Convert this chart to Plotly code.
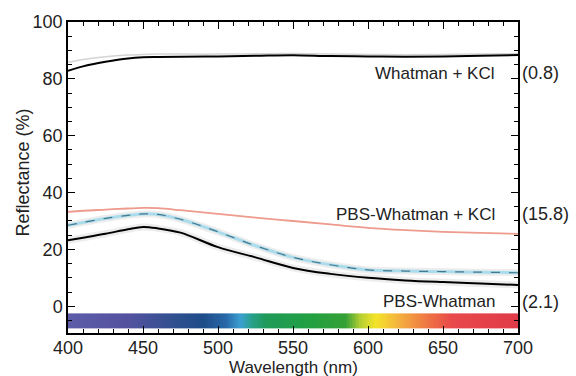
import numpy as np
import plotly.graph_objects as go

# ---- data ----
wavelength = [400, 410, 425, 440, 450, 460, 475, 500, 525, 550, 575, 600, 625, 650, 675, 700]

whatman_kcl = [82.8, 84.4, 86.0, 87.2, 87.6, 87.7, 87.8, 87.9, 88.1, 88.3, 88.0, 87.9, 87.8, 87.9, 88.1, 88.4]
whatman_kcl_upper = [85.8, 86.8, 87.8, 88.4, 88.6, 88.7, 88.7, 88.7, 88.8, 88.9, 88.7, 88.6, 88.5, 88.6, 88.7, 88.9]
pbs_whatman_kcl = [33.2, 33.6, 34.0, 34.4, 34.6, 34.5, 33.8, 32.5, 31.2, 30.0, 28.8, 27.6, 26.8, 26.2, 25.8, 25.5]
pbs_whatman_mid = [28.5, 29.5, 30.9, 32.0, 32.5, 32.3, 30.6, 26.2, 21.3, 17.2, 14.6, 12.8, 12.4, 12.2, 12.0, 11.8]
pbs_whatman = [23.2, 24.1, 25.5, 27.1, 27.9, 27.4, 25.9, 20.8, 17.2, 13.5, 11.4, 10.0, 9.1, 8.5, 8.0, 7.5]

series_labels = ["Whatman + KCl", "PBS-Whatman + KCl", "PBS-Whatman"]
series_label_y = [81.9, 32.4, 1.6]
series_values = ["(0.8)", "(15.8)", "(2.1)"]

x_ticks = [400, 450, 500, 550, 600, 650, 700]
y_ticks = [0, 20, 40, 60, 80, 100]

spectrum_band = [-7.7, -2.5]
spectrum_stops = [
    (400, "#5c5ca8"), (440, "#54529f"), (470, "#30508f"), (490, "#1d4c88"),
    (505, "#2868a8"), (515, "#3aa0d2"), (522, "#28a08c"), (532, "#1f9a58"),
    (560, "#22a043"), (585, "#35a035"), (595, "#b8d032"), (605, "#f4e428"),
    (620, "#f4b23e"), (640, "#ee7444"), (655, "#e84a4a"), (700, "#e03a48"),
]

fig = go.Figure()

# spectrum colour bar
edges = np.arange(400, 701, 1)
centers = (edges[:-1] + edges[1:]) / 2
cs = [[(w - 400) / 300, c] for w, c in spectrum_stops]
fig.add_trace(go.Heatmap(x=edges, y=spectrum_band, z=[centers], colorscale=cs,
                         zmin=400, zmax=700, showscale=False, hoverinfo="skip"))

# faint grey companion line for Whatman + KCl
fig.add_trace(go.Scatter(x=wavelength, y=whatman_kcl_upper, mode="lines",
                         line=dict(color="rgba(170,170,170,0.5)", width=1.5, shape="spline")))
fig.add_trace(go.Scatter(x=wavelength, y=whatman_kcl, mode="lines",
                         line=dict(color="black", width=2, shape="spline")))

# soft grey halos under the lower curves
for ys in (pbs_whatman, pbs_whatman_mid):
    fig.add_trace(go.Scatter(x=wavelength, y=ys, mode="lines",
                             line=dict(color="rgba(190,190,190,0.28)", width=7, shape="spline")))

fig.add_trace(go.Scatter(x=wavelength, y=pbs_whatman_kcl, mode="lines",
                         line=dict(color="#ee9a8c", width=1.8, shape="spline")))
fig.add_trace(go.Scatter(x=wavelength, y=pbs_whatman_mid, mode="lines",
                         line=dict(color="#aadcec", width=3, shape="spline")))
fig.add_trace(go.Scatter(x=wavelength, y=pbs_whatman_mid, mode="lines",
                         line=dict(color="#46788e", width=1.2, dash="dash", shape="spline")))
fig.add_trace(go.Scatter(x=wavelength, y=pbs_whatman, mode="lines",
                         line=dict(color="black", width=2, shape="spline")))

font = "Liberation Sans, Arial, sans-serif"
annotations = []
for lab, yv, val in zip(series_labels, series_label_y, series_values):
    annotations.append(dict(x=686, y=yv, xref="x", yref="y", text=lab, showarrow=False,
                            xanchor="right", yanchor="middle", font=dict(size=17, color="#222")))
    annotations.append(dict(x=1, y=yv, xref="paper", yref="y", text=val, showarrow=False,
                            xanchor="left", yanchor="middle", xshift=2, font=dict(size=18, color="#222")))
annotations.append(dict(x=0.5, y=0, xref="paper", yref="paper", text="Wavelength (nm)",
                        showarrow=False, xanchor="center", yanchor="middle", yshift=-34,
                        font=dict(size=17, color="#222")))
annotations.append(dict(x=0, y=0.5, xref="paper", yref="paper", text="Reflectance (%)",
                        showarrow=False, xanchor="center", yanchor="middle", xshift=-46, yshift=5,
                        textangle=-90, font=dict(size=18, color="#222")))

axis_common = dict(showline=True, linecolor="black", linewidth=1.5, mirror="allticks",
                   ticks="inside", ticklen=7, tickwidth=1.3, tickcolor="black",
                   showgrid=False, zeroline=False, tickfont=dict(size=18, color="#222", family=font))
fig.update_xaxes(range=[400, 700], tickvals=x_ticks, ticklabelstandoff=-2,
                 minor=dict(dtick=10, ticks="inside", ticklen=4, tickcolor="black", tickwidth=1),
                 **axis_common)
fig.update_yaxes(range=[-9.4, 100], tickvals=y_ticks,
                 minor=dict(dtick=5, ticks="inside", ticklen=4, tickcolor="black", tickwidth=1),
                 **axis_common)

fig.update_layout(width=576, height=376, margin=dict(l=68, r=58, t=19, b=43),
                  paper_bgcolor="white", plot_bgcolor="white",
                  font=dict(family=font, color="#222"), annotations=annotations,
                  showlegend=False)

fig.write_html("out.html", config={"displayModeBar": False},
               post_script="document.body.style.margin='0px';")
